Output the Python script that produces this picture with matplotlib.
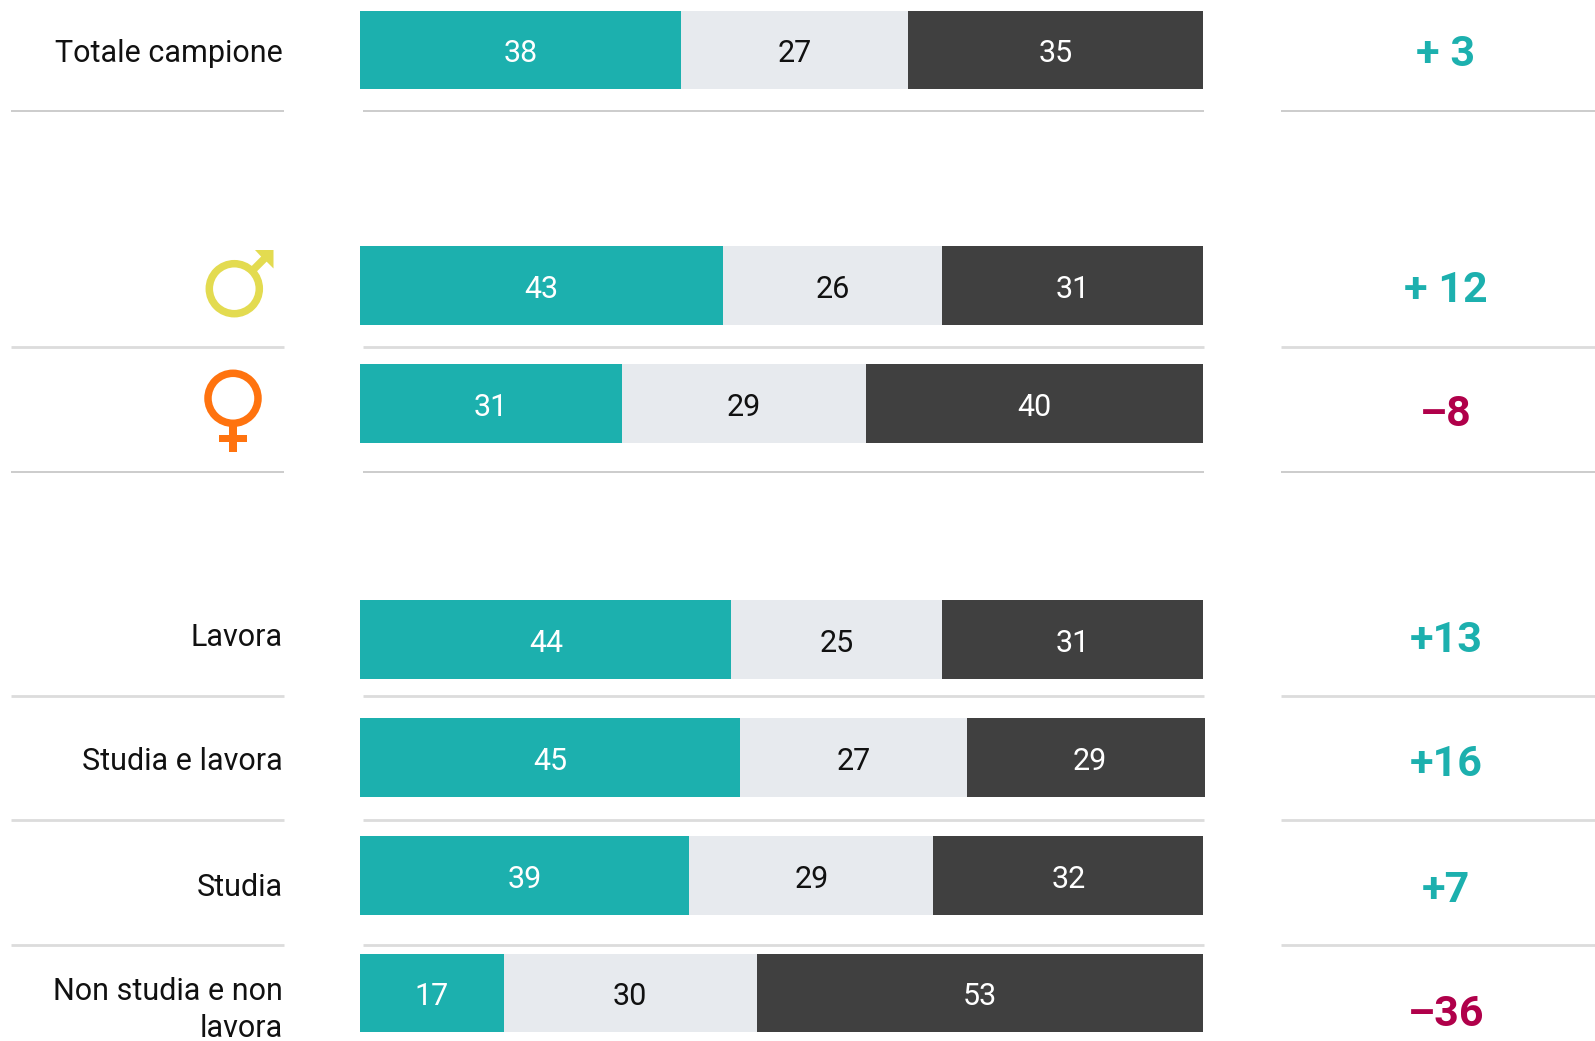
from matplotlib import pyplot as plt
from matplotlib.patches import Circle, Polygon, Rectangle
import numpy as np

W, H = 1595, 1041

# data
labels = ["Totale campione", "", "", "Lavora", "Studia e lavora", "Studia", "Non studia e non\nlavora"]
positive = [38, 43, 31, 44, 45, 39, 17]
neutral = [27, 26, 29, 25, 27, 29, 30]
negative = [35, 31, 40, 31, 29, 32, 53]
delta_labels = ["+ 3", "+ 12", "–8", "+13", "+16", "+7", "–36"]
delta_values = [3, 12, -8, 13, 16, 7, -36]

# layout, in pixels
row_y = [49.9, 285.4, 403.4, 639.4, 757.4, 875.4, 992.9]
bar_h = 78.6
label_y = [53.5, 0, 0, 638, 762, 887, 1010]
delta_y = [55, 291, 415, 640, 765, 890, 1014]
thick_lines = [347, 695.5, 820, 945]
thin_lines = [111, 472]

TEAL = "#1CB0AE"
GREY = "#E7EAEE"
DARK = "#404040"
RED = "#B0004A"
FONT = "Roboto"

fig = plt.figure(figsize=(W / 100, H / 100), dpi=100)

# bars: x axis in percent, y axis in pixels
# the axes stops just past 100, the 101 row is cut there as in the original
ax = fig.add_axes([360.4 / W, 0, 844.8 / W, 1])
ax.set_xlim(0, 100.24)
ax.set_ylim(H, 0)
ax.axis("off")

pos = np.array(positive)
neu = np.array(neutral)
neg = np.array(negative)
lefts = [0 * pos, pos, pos + neu]
for vals, left, col, tcol in zip([pos, neu, neg], lefts, [TEAL, GREY, DARK], ["white", "#111111", "white"]):
    bars = ax.barh(row_y, vals, left=left, height=bar_h, color=col)
    for b, v in zip(bars, vals):
        ax.text(b.get_x() + b.get_width() / 2, b.get_y() + bar_h / 2 + 4, str(v), color=tcol,
                ha="center", va="center", fontsize=22, family=FONT, clip_on=False)

# everything else in pixel coordinates
ov = fig.add_axes([0, 0, 1, 1])
ov.set_xlim(0, W)
ov.set_ylim(H, 0)
ov.axis("off")
ov.patch.set_alpha(0)

for y in thick_lines:
    for x0, x1 in [(11, 284), (363, 1204), (1281, W)]:
        ov.plot([x0, x1], [y, y], color="#DCDCDC", lw=2, solid_capstyle="butt")
for y in thin_lines:
    for x0, x1 in [(11, 284), (363, 1204), (1281, W)]:
        ov.plot([x0, x1], [y, y], color="#C4C4C4", lw=1.2, solid_capstyle="butt")

for lab, y in zip(labels, label_y):
    if lab:
        ov.text(282.5, y, lab, ha="right", va="center", fontsize=22, color="#111111",
                family=FONT, linespacing=1.38)

for txt, val, y in zip(delta_labels, delta_values, delta_y):
    ov.text(1446, y, txt, ha="center", va="center", fontsize=31, fontweight="bold",
            family=FONT, color=TEAL if val > 0 else RED)

# male symbol
MALE = "#E3DB50"
ov.add_patch(Circle((234.3, 288.7), 25, fill=False, ec=MALE, lw=5.4))
ov.plot([252, 270], [271, 253], color=MALE, lw=5.4, solid_capstyle="butt")
ov.add_patch(Polygon([(255, 250), (273.5, 250), (273.5, 268.5), (266, 261), (262, 257.5)], color=MALE, lw=0))

# female symbol
FEMALE = "#FF730F"
ov.add_patch(Circle((233, 398.3), 25, fill=False, ec=FEMALE, lw=5.4))
ov.add_patch(Rectangle((229.3, 426), 7.4, 25.7, color=FEMALE, lw=0))
ov.add_patch(Rectangle((219.3, 435), 27.4, 7, color=FEMALE, lw=0))

fig.savefig("out.png", dpi=100, facecolor="white")
